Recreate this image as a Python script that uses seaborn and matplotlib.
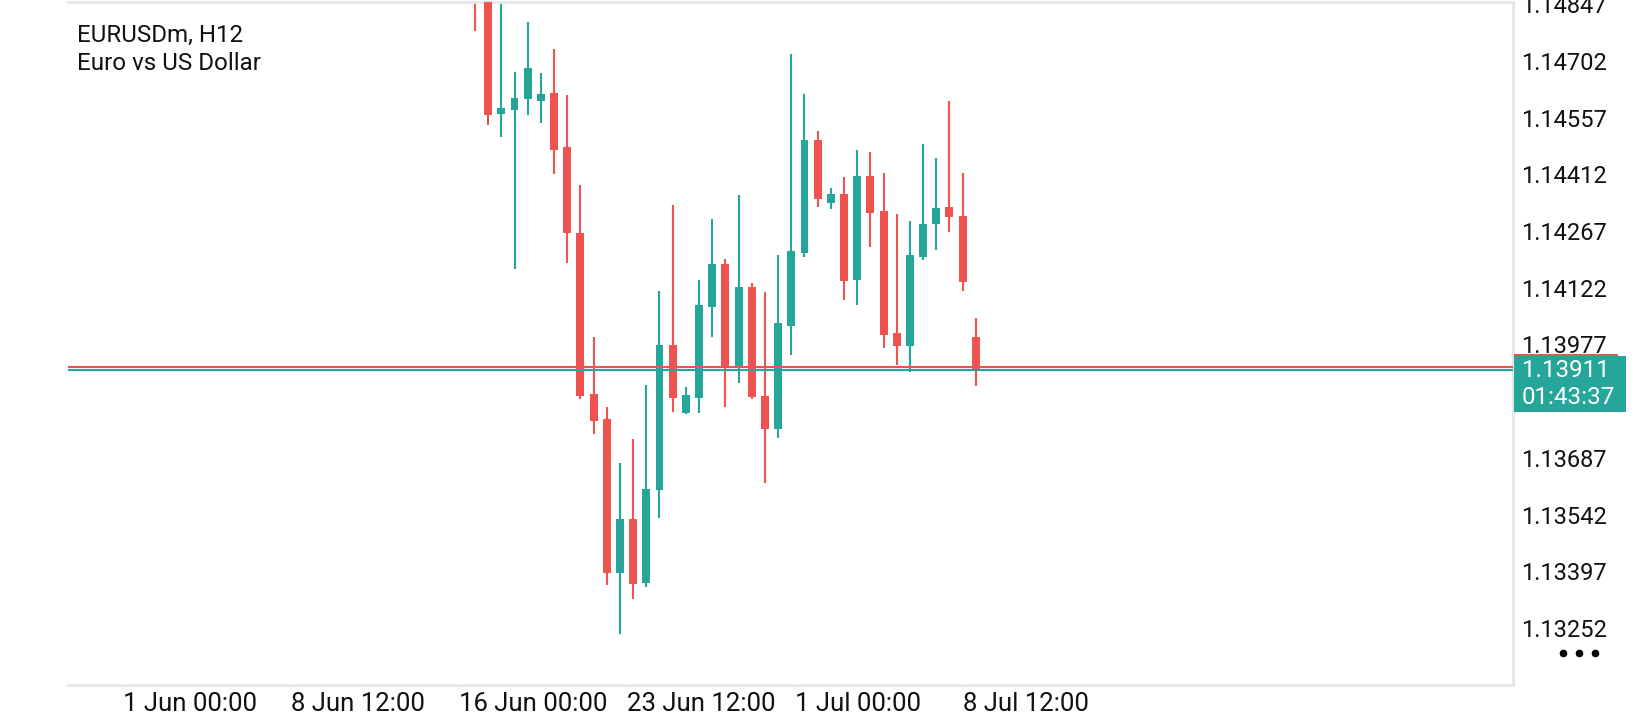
import numpy as np
import pandas as pd
import matplotlib
matplotlib.use("Agg")
import matplotlib.pyplot as plt
from matplotlib.patches import Rectangle
from matplotlib.lines import Line2D
import seaborn as sns

# ---------------- data ----------------
symbol_title = "EURUSDm, H12"
symbol_desc = "Euro vs US Dollar"

opens  = [1.14950, 1.14870, 1.14566, 1.14578, 1.14604, 1.14600, 1.14620, 1.14481, 1.14262, 1.13850,
          1.13786, 1.13392, 1.13531, 1.13366, 1.13604, 1.13975, 1.13803, 1.13840, 1.14074, 1.14183,
          1.13916, 1.14124, 1.13846, 1.13760, 1.14025, 1.14211, 1.14501, 1.14339, 1.14362, 1.14141,
          1.14408, 1.14318, 1.14007, 1.13972, 1.14202, 1.14285, 1.14329, 1.14306, 1.13996]
highs  = [1.15000, 1.14900, 1.14880, 1.14675, 1.14802, 1.14672, 1.14733, 1.14615, 1.14386, 1.13995,
          1.13816, 1.13673, 1.13734, 1.13874, 1.14114, 1.14333, 1.13868, 1.14142, 1.14299, 1.14196,
          1.14359, 1.14135, 1.14112, 1.14205, 1.14721, 1.14617, 1.14524, 1.14378, 1.14406, 1.14474,
          1.14469, 1.14415, 1.14311, 1.14294, 1.14489, 1.14454, 1.14600, 1.14416, 1.14045]
lows   = [1.14778, 1.14538, 1.14508, 1.14171, 1.14564, 1.14544, 1.14414, 1.14186, 1.13838, 1.13747,
          1.13363, 1.13237, 1.13326, 1.13356, 1.13534, 1.13804, 1.13798, 1.13803, 1.13996, 1.13816,
          1.13878, 1.13837, 1.13623, 1.13739, 1.13949, 1.14200, 1.14329, 1.14324, 1.14091, 1.14078,
          1.14226, 1.13969, 1.13925, 1.13907, 1.14193, 1.14218, 1.14264, 1.14115, 1.13872]
closes = [1.14870, 1.14564, 1.14583, 1.14608, 1.14684, 1.14618, 1.14475, 1.14261, 1.13845, 1.13782,
          1.13392, 1.13531, 1.13364, 1.13608, 1.13975, 1.13840, 1.13848, 1.14078, 1.14183, 1.13916,
          1.14124, 1.13842, 1.13760, 1.14032, 1.14217, 1.14501, 1.14350, 1.14362, 1.14139, 1.14408,
          1.14314, 1.14000, 1.13972, 1.14205, 1.14286, 1.14326, 1.14302, 1.14138, 1.13911]

bid_price = 1.13911
ask_price = 1.13920
countdown = "01:43:37"

# 1.13832 sits behind the price label box in the reference, so it is not shown
ytick_labels = ["1.13252", "1.13397", "1.13542", "1.13687", "1.13977",
                "1.14122", "1.14267", "1.14412", "1.14557", "1.14702", "1.14847"]
xtick_labels = ["1 Jun 00:00", "8 Jun 12:00", "16 Jun 00:00", "23 Jun 12:00", "1 Jul 00:00", "8 Jul 12:00"]
xtick_positions = [-26.72, -13.96, -1.18, 11.53, 24.28, 37.03]   # bar-index positions of time labels

# ---------------- style ----------------
UP = "#26a69a"
DOWN = "#ef5350"
FRAME = "#e6e6e6"

sns.set_theme(style="white")
plt.rcParams["font.family"] = ["Roboto", "DejaVu Sans"]

W, H = 1640, 720
fig = plt.figure(figsize=(W / 100, H / 100), dpi=100)
ax = fig.add_axes([68 / W, 1 - 685 / H, (1513 - 68) / W, (685 - 2) / H])

df = pd.DataFrame({"o": opens, "h": highs, "l": lows, "c": closes})
df["idx"] = np.arange(len(df))
df["up"] = df["c"] >= df["o"]
df["color"] = np.where(df["up"], UP, DOWN)

# wicks
ax.vlines(df["idx"], df["l"], df["h"], colors=df["color"], linewidth=1.5, zorder=2)
# bodies
body_h = (df["c"] - df["o"]).abs().clip(lower=0.00003)
ax.bar(df["idx"], body_h, bottom=df[["o", "c"]].min(axis=1), width=0.6,
       color=df["color"], edgecolor="none", linewidth=0, zorder=3)

# bid / ask lines
ax.axhline(ask_price, color=DOWN, linewidth=1.5, zorder=4)
ax.axhline(bid_price, color=UP, linewidth=1.5, zorder=4)

ax.set_xlim(-30.88, 78.76)
ax.set_ylim(1.13106, 1.14853)

# axes & ticks
ax.yaxis.tick_right()
yt = [float(s) for s in ytick_labels]
ax.set_yticks(yt)
ax.set_yticklabels(ytick_labels)
ax.set_xticks(xtick_positions)
ax.set_xticklabels(xtick_labels, ha="left")
ax.tick_params(axis="y", which="both", right=True, left=False, length=4, width=1.2,
               color=FRAME, pad=2, labelsize=17, labelcolor="#111111")
ax.tick_params(axis="x", which="both", bottom=True, length=3, width=1.2,
               color=FRAME, pad=2, labelsize=18.5, labelcolor="#111111")

sns.despine(ax=ax, left=True, top=False, right=False, bottom=False)
for side in ["top", "right", "bottom"]:
    ax.spines[side].set_color(FRAME)
    ax.spines[side].set_linewidth(2.0)
ax.grid(False)

# title text
fig.text(77 / W, 1 - 42 / H, symbol_title, fontsize=17.4, color="#111111", va="baseline", ha="left")
fig.text(77 / W, 1 - 70 / H, symbol_desc, fontsize=17.4, color="#111111", va="baseline", ha="left")

# price label box (anchored to bid price)
fig.canvas.draw()
bid_disp = ax.transData.transform((0, bid_price))[1]      # pixels from bottom
box_top = bid_disp + 14
box_bot = bid_disp - 42
fig.add_artist(Rectangle((1514 / W, box_bot / H), (1626 - 1514) / W, (box_top - box_bot) / H,
                         transform=fig.transFigure, facecolor=UP, edgecolor="none", zorder=10))
fig.add_artist(Rectangle((1514 / W, (box_top) / H), (1618 - 1514) / W, 2.5 / H,
                         transform=fig.transFigure, facecolor=DOWN, edgecolor="none", zorder=10))
fig.text(1522 / W, (box_top - 14) / H, f"{bid_price:.5f}", fontsize=17.4, color="white",
         va="center", ha="left", zorder=11)
fig.text(1522 / W, (box_top - 41) / H, countdown, fontsize=17.4, color="white",
         va="center", ha="left", zorder=11)

# menu dots
fig.add_artist(Line2D([1563 / W, 1579 / W, 1595 / W], [1 - 653 / H] * 3, transform=fig.transFigure,
                      marker="o", markersize=4.5, linestyle="none", color="black", zorder=10))

fig.savefig("out.png", dpi=100)
